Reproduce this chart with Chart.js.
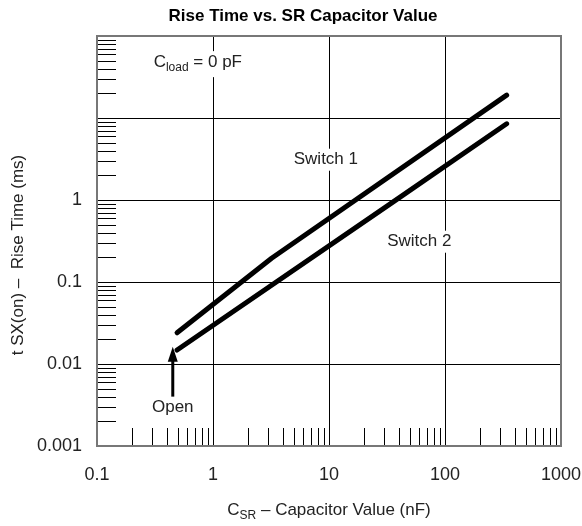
<!DOCTYPE html>
<html>
<head>
<meta charset="utf-8">
<script src="https://cdn.jsdelivr.net/npm/chart.js@4/dist/chart.umd.min.js"></script>
<style>
  body { margin: 0; background: #fff; }
  canvas { display: block; }
</style>
</head>
<body>
<canvas id="riseTime" width="582" height="526"></canvas>
<script>
// datos (ejes log-log)
const switch1Cap = [0.49, 3.2, 340];
const switch1Time = [0.024, 0.195, 19];
const switch2Cap = [0.49, 35, 340];
const switch2Time = [0.0148, 0.93, 8.5];

// etiquetas de los ejes
const xTickLabels = [0.1, 1, 10, 100, 1000];
const yTickLabels = [0.001, 0.01, 0.1, 1];
const xDecades = [0.1, 1, 10, 100, 1000];
const yDecades = [0.001, 0.01, 0.1, 1, 10, 100];

// textos dentro del area
const notes = [
  { text: 'Switch 1', x: 9.4, y: 3.1 },
  { text: 'Switch 2', x: 60, y: 0.31 }
];
const openArrow = { x: 0.45, from: 0.004, to: 0.0162, label: 0.003 };
const loadNote = { x: 0.74, y: 48 };

const FONT = '"Liberation Sans", Arial, Helvetica, sans-serif';

function toPoints(xs, ys) {
  let pts = [];
  for (let i = 0; i < xs.length; i++) pts.push({ x: xs[i], y: ys[i] });
  return pts;
}

// rejilla, marcas menores y notas
const decor = {
  id: 'decor',
  beforeDatasetsDraw(chart) {
    const ctx = chart.ctx, a = chart.chartArea;
    const xs = chart.scales.x, ys = chart.scales.y;
    ctx.save();
    ctx.strokeStyle = '#000';
    ctx.lineWidth = 1;
    ctx.beginPath();
    xDecades.slice(1, -1).forEach(v => {
      const px = Math.round(xs.getPixelForValue(v)) + 0.5;
      ctx.moveTo(px, a.top); ctx.lineTo(px, a.bottom);
    });
    yDecades.slice(1, -1).forEach(v => {
      const py = Math.round(ys.getPixelForValue(v)) + 0.5;
      ctx.moveTo(a.left, py); ctx.lineTo(a.right, py);
    });
    // marcas menores hacia dentro
    xDecades.slice(0, -1).forEach(d => {
      for (let m = 2; m <= 9; m++) {
        const px = Math.round(xs.getPixelForValue(d * m)) + 0.5;
        ctx.moveTo(px, a.bottom); ctx.lineTo(px, a.bottom - 18);
      }
    });
    yDecades.slice(0, -1).forEach(d => {
      for (let m = 2; m <= 9; m++) {
        const py = Math.round(ys.getPixelForValue(d * m)) + 0.5;
        ctx.moveTo(a.left, py); ctx.lineTo(a.left + 19, py);
      }
    });
    ctx.stroke();

    // borde
    ctx.strokeStyle = '#777';
    ctx.lineWidth = 2;
    ctx.strokeRect(a.left, a.top, a.right - a.left, a.bottom - a.top);

    // notas con fondo blanco
    ctx.font = '17px ' + FONT;
    ctx.textAlign = 'center';
    ctx.textBaseline = 'middle';
    notes.forEach(n => {
      const px = xs.getPixelForValue(n.x), py = ys.getPixelForValue(n.y);
      const w = ctx.measureText(n.text).width;
      ctx.fillStyle = '#fff';
      ctx.fillRect(px - w / 2 - 3, py - 11, w + 6, 22);
      ctx.fillStyle = '#222';
      ctx.fillText(n.text, px, py);
    });

    // C load = 0 pF
    const lx = xs.getPixelForValue(loadNote.x), ly = ys.getPixelForValue(loadNote.y);
    ctx.font = '17px ' + FONT;
    const wC = ctx.measureText('C').width;
    ctx.font = '12px ' + FONT;
    const wSub = ctx.measureText('load').width;
    ctx.font = '17px ' + FONT;
    const wRest = ctx.measureText(' = 0 pF').width;
    const total = wC + wSub + wRest;
    let sx = lx - total / 2;
    ctx.fillStyle = '#fff';
    ctx.fillRect(sx - 3, ly - 11, total + 6, 26);
    ctx.fillStyle = '#222';
    ctx.textAlign = 'left';
    ctx.fillText('C', sx, ly);
    ctx.font = '12px ' + FONT;
    ctx.fillText('load', sx + wC, ly + 6);
    ctx.font = '17px ' + FONT;
    ctx.fillText(' = 0 pF', sx + wC + wSub, ly);
    ctx.restore();
  },
  afterDraw(chart) {
    const ctx = chart.ctx, a = chart.chartArea;
    const xs = chart.scales.x, ys = chart.scales.y;
    ctx.save();
    // flecha "Open"
    const ax = xs.getPixelForValue(openArrow.x);
    const yTop = ys.getPixelForValue(openArrow.to);
    const yBot = ys.getPixelForValue(openArrow.from);
    ctx.strokeStyle = '#000';
    ctx.lineWidth = 3;
    ctx.beginPath();
    ctx.moveTo(ax, yBot); ctx.lineTo(ax, yTop + 12);
    ctx.stroke();
    ctx.fillStyle = '#000';
    ctx.beginPath();
    ctx.moveTo(ax, yTop);
    ctx.lineTo(ax - 5, yTop + 15);
    ctx.lineTo(ax + 5, yTop + 15);
    ctx.closePath();
    ctx.fill();
    ctx.font = '17px ' + FONT;
    ctx.fillStyle = '#222';
    ctx.textAlign = 'center';
    ctx.textBaseline = 'middle';
    ctx.fillText('Open', ax, ys.getPixelForValue(openArrow.label));

    // titulo
    ctx.font = 'bold 17px ' + FONT;
    ctx.fillStyle = '#000';
    ctx.fillText('Rise Time vs. SR Capacitor Value', 303, 16);

    // titulo eje y (girado)
    ctx.save();
    ctx.translate(18, 255);
    ctx.rotate(-Math.PI / 2);
    ctx.font = '17px ' + FONT;
    ctx.fillStyle = '#222';
    ctx.fillText('t SX(on) \u2013  Rise Time (ms)', 0, 0);
    ctx.restore();

    // titulo eje x con subindice
    const cx = (a.left + a.right) / 2, cy = 510;
    ctx.font = '17px ' + FONT;
    const wC = ctx.measureText('C').width;
    const wRest = ctx.measureText(' \u2013 Capacitor Value (nF)').width;
    ctx.font = '12px ' + FONT;
    const wSub = ctx.measureText('SR').width;
    let sx = cx - (wC + wSub + wRest) / 2;
    ctx.textAlign = 'left';
    ctx.fillStyle = '#222';
    ctx.font = '17px ' + FONT;
    ctx.fillText('C', sx, cy);
    ctx.font = '12px ' + FONT;
    ctx.fillText('SR', sx + wC, cy + 6);
    ctx.font = '17px ' + FONT;
    ctx.fillText(' \u2013 Capacitor Value (nF)', sx + wC + wSub, cy);
    ctx.restore();
  }
};

const lineStyle = {
  borderColor: '#000',
  borderWidth: 5,
  borderCapStyle: 'round',
  borderJoinStyle: 'round',
  pointRadius: 0,
  tension: 0,
  fill: false
};

new Chart(document.getElementById('riseTime'), {
  type: 'line',
  data: {
    datasets: [
      Object.assign({ label: 'Switch 1', data: toPoints(switch1Cap, switch1Time) }, lineStyle),
      Object.assign({ label: 'Switch 2', data: toPoints(switch2Cap, switch2Time) }, lineStyle)
    ]
  },
  options: {
    responsive: false,
    animation: false,
    layout: { padding: { top: 36, right: 21, left: 0, bottom: 0 } },
    plugins: {
      legend: { display: false },
      tooltip: { enabled: false },
      title: { display: false }
    },
    scales: {
      x: {
        type: 'logarithmic',
        min: 0.1,
        max: 1000,
        grid: { display: false, drawTicks: false },
        border: { display: false },
        afterBuildTicks: s => { s.ticks = xTickLabels.map(v => ({ value: v })); },
        afterFit: s => { s.height = 80; s.paddingLeft = 0; s.paddingRight = 0; },
        ticks: {
          color: '#222',
          font: { family: FONT, size: 18 },
          padding: 18,
          maxRotation: 0,
          autoSkip: false,
          callback: v => String(v)
        }
      },
      y: {
        type: 'logarithmic',
        min: 0.001,
        max: 100,
        grid: { display: false, drawTicks: false },
        border: { display: false },
        afterBuildTicks: s => { s.ticks = yTickLabels.map(v => ({ value: v })); },
        afterFit: s => { s.width = 97; s.paddingTop = 0; s.paddingBottom = 0; },
        ticks: {
          color: '#222',
          font: { family: FONT, size: 18 },
          padding: 15,
          autoSkip: false,
          callback: v => String(v)
        }
      }
    }
  },
  plugins: [decor]
});
</script>
</body>
</html>
